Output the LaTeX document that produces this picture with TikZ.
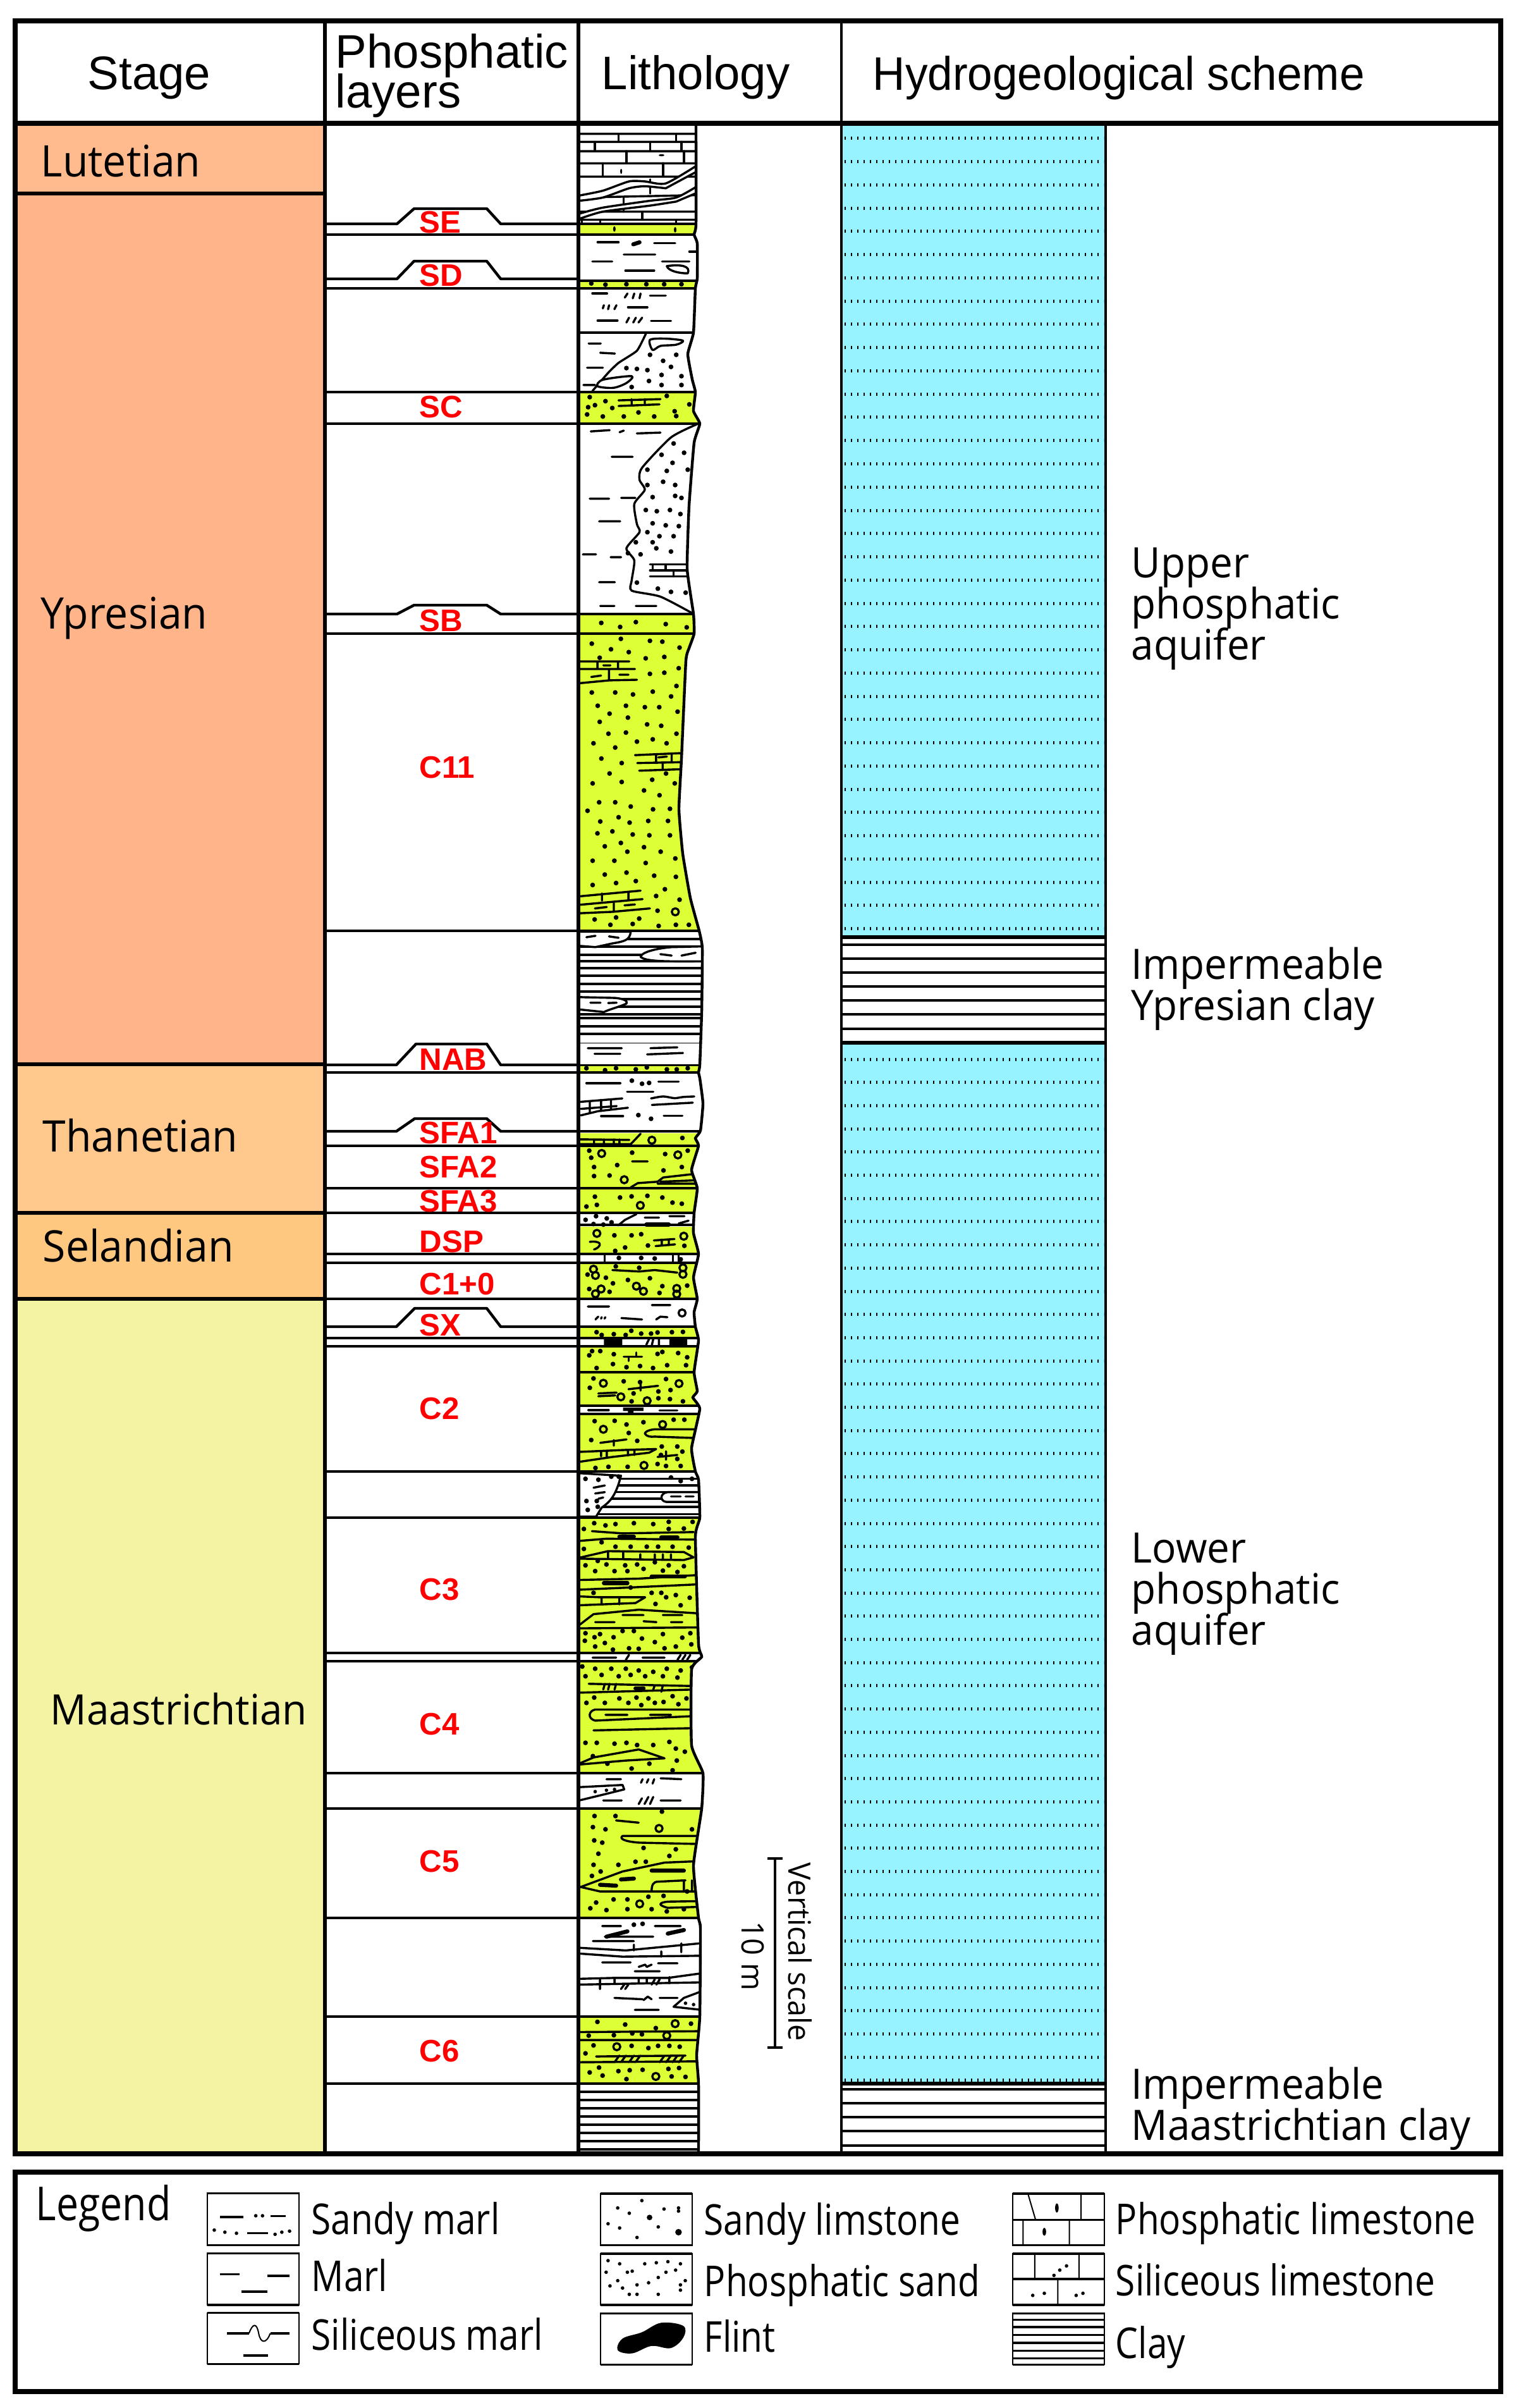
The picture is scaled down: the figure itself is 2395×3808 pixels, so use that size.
\documentclass[tikz,border=0pt]{standalone}
\usepackage{fontspec}
\setmainfont{Liberation Sans}
\newfontfamily\myr[FakeStretch=0.96]{Open Sans}
\newfontfamily\myrleg[FakeStretch=0.845]{Open Sans}
\newfontfamily\hyd[FakeStretch=0.955]{Liberation Sans}
\definecolor{lut}{HTML}{FFBB8E}
\definecolor{ypr}{HTML}{FFB48A}
\definecolor{tha}{HTML}{FFC88C}
\definecolor{sel}{HTML}{FFC880}
\definecolor{maa}{HTML}{F4F3A2}
\definecolor{phy}{HTML}{DDFF36}
\definecolor{aq}{HTML}{96F3FF}
\definecolor{rd}{HTML}{FF0000}
\tikzset{
  frame/.style={line width=2pt,draw=black},
  colline/.style={line width=1.5pt,draw=black},
  stline/.style={line width=1.7pt,draw=black},
  phline/.style={line width=1.1pt,draw=black,line join=round},
  ln/.style={line width=0.85pt,draw=black,line cap=round,line join=round},
  ln2/.style={line width=1.1pt,draw=black},
  flint/.style={line width=1.6pt,draw=black,line cap=round},
  lens/.style={ln,fill=white},
  hdr/.style={anchor=base west,inner sep=0pt,font=\fontsize{18.6}{20}\selectfont},
  stg/.style={anchor=base west,inner sep=0pt,font=\myr\fontsize{17.2}{18}\selectfont},
  hy/.style={anchor=base west,inner sep=0pt,font=\myr\fontsize{16.6}{18}\selectfont},
  rl/.style={anchor=base west,inner sep=0pt,text=rd,font=\bfseries\fontsize{12.3}{14}\selectfont},
  lg/.style={anchor=base west,inner sep=0pt,font=\myrleg\fontsize{16.8}{18}\selectfont},
  scl/.style={anchor=base west,inner sep=0pt,rotate=-90,font=\myr\fontsize{12.2}{15}\selectfont},
  lgbox/.style={line width=0.5pt,draw=black},
  lgh/.style={line width=0.8pt,draw=black},
  zA/.style={x=0.2073pt,y=-0.1594pt},
  zB/.style={x=0.1116pt,y=-0.1116pt,xshift=125pt,yshift=-250pt},
  zC/.style={x=0.1116pt,y=-0.1116pt,xshift=125pt,yshift=-412.5pt},
  zD/.style={x=0.1276pt,y=-0.1754pt,xshift=125pt,yshift=-575pt},
  zE/.style={x=0.3817pt,y=-0.0833pt,yshift=-845pt},
  aqdots/.style={line width=1.25pt,black,dash pattern=on 0.5pt off 2pt},
}
\newcommand\dotsat[1]{\foreach \xx/\yy in {#1}{\fill (\xx,\yy) circle (0.95pt);}}
\newcommand\ringsat[1]{\foreach \xx/\yy in {#1}{\draw[ln] (\xx,\yy) circle (1.4pt);}}
\newcommand\legdots[1]{\foreach \xx/\yy in {#1}{\fill (\xx,\yy) circle (0.7pt);}}
\newcommand\profpath{(915,199) -- plot[smooth,tension=0.25] coordinates {(1101,199) (1101,354) (1098,371) (1103,385) (1103,440) (1100,456) (1097,526) (1088,560) (1095,600) (1100,620) (1097,650) (1107,670) (1098,700) (1090,800) (1087,900) (1097,971) (1098,1002) (1090,1025) (1085,1045) (1078,1200) (1074,1280) (1080,1350) (1092,1420) (1106,1472) (1111,1500) (1110,1600) (1107,1684) (1105,1696) (1107,1705) (1112,1745) (1108,1788) (1100,1800) (1105,1812) (1094,1850) (1103,1879) (1098,1918) (1097,1950) (1105,1983) (1097,2020) (1103,2054) (1098,2075) (1100,2098) (1105,2120) (1098,2170) (1103,2200) (1096,2210) (1107,2228) (1094,2290) (1100,2327) (1105,2340) (1107,2400) (1100,2430) (1105,2600) (1110,2620) (1094,2640) (1094,2760) (1112,2804) (1110,2860) (1097,2950) (1105,3033) (1108,3050) (1107,3189) (1102,3250) (1105,3295) (1105,3402)} -- (915,3402) -- cycle}
\begin{document}
\begin{tikzpicture}[x=0.25pt,y=-0.25pt]
\useasboundingbox (0,0) rectangle (2395,3808);
\fill[white] (0,0) rectangle (2395,3808);
% stage fills
\fill[lut] (24,199) rectangle (514,306);
\fill[ypr] (24,306) rectangle (514,1683);
\fill[tha] (24,1683) rectangle (514,1918);
\fill[sel] (24,1918) rectangle (514,2054);
\fill[maa] (24,2054) rectangle (514,3406);
% hydro
\fill[aq] (1331,199) rectangle (1749,1482);
\fill[aq] (1331,1649) rectangle (1749,3295);
\foreach \k in {0,...,34}{\draw[aqdots] (1336,{219+36.75*\k}) -- (1746,{219+36.75*\k});}
\foreach \k in {0,...,44}{\draw[aqdots] (1336,{1675+36.7*\k}) -- (1746,{1675+36.7*\k});}
\foreach \y in {1494,1516,1538,1560,1582,1604,1627,3304,3326,3348,3370,3393}{\draw[ln2] (1331,\y) -- (1749,\y);}
\draw[stline] (1331,1482) -- (1749,1482);
\draw[stline] (1331,1649) -- (1749,1649);
\draw[stline] (1331,3295) -- (1749,3295);
\draw[line width=1pt] (1749,199) -- (1749,3406);
% phosphatic lines
\foreach \y in {371,456,620,670,1002,1472,1696,1812,1879,1918,1983,1997,2054,2116,2129,2327,2400,2614,2627,2804,2860,3033,3189,3295}{\draw[phline] (514,\y) -- (915,\y);}
\draw[phline] (514,354) -- (628,354) -- (655,330) -- (770,330) -- (792,354) -- (915,354);
\draw[phline] (514,441) -- (628,441) -- (655,413) -- (770,413) -- (792,441) -- (915,441);
\draw[phline] (514,971) -- (628,971) -- (655,957) -- (770,957) -- (792,971) -- (915,971);
\draw[phline] (514,1684) -- (627,1684) -- (658,1651) -- (770,1651) -- (792,1684) -- (915,1684);
\draw[phline] (514,1789) -- (627,1789) -- (656,1769) -- (770,1769) -- (792,1789) -- (915,1789);
\draw[phline] (514,2098) -- (627,2098) -- (656,2069) -- (770,2069) -- (792,2098) -- (915,2098);
% lithology
\begin{scope}
\path[clip] \profpath;
\fill[white] (915,199) rectangle (1200,3402);
\foreach \a/\b in {354/371,444/456,620/670,971/1472,1684/1696,1792/1812,1812/1879,1879/1918,1940/1983,1997/2054,2098/2116,2130/2170,2172/2223,2238/2327,2400/2614,2627/2804,2860/3033,3189/3295}{\fill[phy] (915,\a) rectangle (1200,\b);}
\foreach \y in {354,371,444,456,526,620,670,971,1002,1472,1651,1684,1696,1789,1812,1879,1918,1937,1983,1997,2054,2098,2116,2129,2170,2223,2236,2327,2400,2614,2627,2804,2860,3033,3189,3295}{\draw[ln2] (915,\y) -- (1200,\y);}
% clay bands
\foreach \y in {1485,1497,1510,1520,1531,1543,1556,1568,1580,1592,1604,1610,1623,1635}{\draw[ln] (915,\y) -- (1200,\y);}
\foreach \k in {1,...,8}{\draw[ln] (915,{3295+13*\k}) -- (1200,{3295+13*\k});}
% section from top
\begin{scope}[zA]
\draw[ln] (1105,332)--(1330,332) (1105,352)--(1330,352) (1105,375)--(1330,375) (1105,405)--(1330,405) (1105,438)--(1330,438) (1105,490)--(1330,484) (1105,525)--(1330,525) (1105,545)--(1330,545);
\draw[ln] (1180,332)--(1180,352) (1290,332)--(1290,352) (1135,352)--(1135,375) (1240,352)--(1240,375) (1300,352)--(1300,375) (1195,375)--(1195,405) (1305,375)--(1305,405) (1150,405)--(1150,438) (1265,405)--(1265,438) (1240,445)--(1240,480) (1145,545)--(1145,556) (1225,525)--(1225,545) (1290,545)--(1290,556) (1190,490)--(1190,525) (1110,545)--(1110,556);
\fill (1262,385) ellipse (1.1pt and 0.4pt) (1185,425) ellipse (0.4pt and 1pt);
\filldraw[lens] plot[smooth,tension=0.4] coordinates {(1105,485) (1150,473) (1200,450) (1230,450) (1270,455) (1330,410)} -- (1330,425) -- plot[smooth,tension=0.4] coordinates {(1270,467) (1230,462) (1200,467) (1150,490) (1105,498)} -- cycle;
\filldraw[lens] plot[smooth,tension=0.4] coordinates {(1105,530) (1150,515) (1240,498) (1290,490) (1330,462)} -- (1330,478) -- plot[smooth,tension=0.4] coordinates {(1290,500) (1240,510) (1150,525) (1105,543)} -- cycle;
\fill (1172,568) ellipse (0.5pt and 1.1pt) (1288,570) ellipse (0.5pt and 1.1pt);
\draw[ln] (1140,601)--(1180,601) (1248,603)--(1288,603) (1190,631)--(1250,631) (1315,624)--(1328,624) (1130,649)--(1168,649) (1263,649)--(1315,649) (1193,671)--(1248,671);
\draw[flint] (1208,606)--(1220,601);
\draw[ln] (1272,660) .. controls (1300,655) and (1318,660) .. (1312,678) .. controls (1295,678) and (1275,672) .. (1272,660);
\dotsat{1128/703,1155/706,1195/705,1233/705,1267/705,1300/705}
\draw[ln] (1130,728)--(1158,728) (1240,733)--(1270,733) (1198,762)--(1235,762) (1140,795)--(1178,795) (1242,796)--(1280,796);
\draw[ln] (1192,738)--(1197,728) (1207,740)--(1210,728) (1220,740)--(1222,728) (1150,765)--(1152,757) (1160,767)--(1162,757) (1172,767)--(1176,757) (1195,800)--(1200,788) (1208,800)--(1213,788) (1218,800)--(1225,788);
% marl and sand
\draw[ln] (1123,852)--(1146,852) (1145,875)--(1173,877) (1120,912)--(1150,912) (1113,955)--(1135,955);
\draw[ln] plot[smooth,tension=0.3] coordinates {(1232,828) (1215,870) (1180,900) (1160,925) (1130,970)};
\dotsat{1195/913,1215/915,1235/918,1265/895,1290/880,1240/880,1280/910,1262/930,1300/933,1238/945,1262/955,1300/955,1205/960}
\filldraw[lens] plot[smooth cycle,tension=0.5] coordinates {(1240,843) (1270,840) (1303,845) (1290,855) (1260,858) (1245,868)};
\filldraw[lens] plot[smooth cycle,tension=0.5] coordinates {(1150,942) (1205,933) (1195,950) (1170,962) (1140,958)};
\dotsat{1125/985,1155/995,1135/1005,1168/1012,1120/1028,1150/1033,1190/1033,1218/1023,1248/1033,1287/1020,1315/1003,1290/1032,1272/982,1122/1010}
\draw[ln] (1180,993)--(1260,990) (1180,1007)--(1258,1003) (1205,990)--(1205,1005) (1230,990)--(1230,1005);
\draw[ln] (1127,1070)--(1163,1067) (1215,1075)--(1260,1073) (1167,1133)--(1207,1133) (1125,1237)--(1162,1237) (1185,1235)--(1212,1235) (1143,1293)--(1183,1293) (1112,1375)--(1137,1375) (1165,1382)--(1185,1382) (1143,1444)--(1173,1444) (1145,1503)--(1172,1503) (1213,1503)--(1252,1503) (1182,1072)--(1190,1068);
\draw[ln] plot[smooth,tension=0.4] coordinates {(1330,1052) (1280,1085) (1225,1160) (1220,1190) (1230,1215) (1210,1250) (1215,1300) (1220,1320) (1195,1360) (1210,1390) (1205,1440) (1205,1465) (1260,1480) (1322,1522)};
\dotsat{1285/1100,1305/1123,1262/1128,1283/1148,1235/1165,1272/1168,1312/1165,1288/1203,1235/1203,1265/1195,1288/1230,1245/1233,1300/1235,1232/1265,1253/1268,1278/1265,1298/1275,1245/1298,1270/1303,1295/1305,1235/1320,1258/1330,1285/1330,1213/1345,1245/1345,1198/1372,1222/1375,1252/1360,1280/1368,1215/1445,1255/1460,1280/1468,1308/1470}
\draw[ln] (1240,1400)--(1310,1400) (1240,1415)--(1312,1415) (1240,1430)--(1310,1430) (1270,1400)--(1270,1415) (1285,1415)--(1285,1430) (1245,1400)--(1245,1415);
\dotsat{1147/1545,1183/1555,1213/1543,1270/1548,1310/1556}
\end{scope}
% C11 and clay
\begin{scope}[zB]
\dotsat{977/40,1080/23,1183/30,1227/33,1288/54,1045/60,1108/70,1005/90,1168/92,1234/87,1285/127,1183/147,1234/143,1277/190,977/213,1060/213,1123/220,1193/210,1258/227,998/260,1098/260,1165/265,1216/265,1281/281,1040/288,1105/302,1005/317,1173/326,1223/331,1036/359,1098/355,1277/359,983/393,1137/387,1193/379,1242/393,1060/408,1011/447,1083/463,1240/500,1040/500,980/535,1083/530,1191/522,1271/535,1162/560,1217/577,1003/602,1060/602,1115/617,1194/627,1254/625,962/632,1007/670,1072/655,1111/674,1177/668,1247/668,997/712,1050/705,1122/716,1181/719,1254/719,1023/758,1080/746,1103/777,1162/761,1221/777,980/809,1057/809,1273/801,1168/817,1023/858,1100/851,1198/862,1275/866,980/895,1063/888,1133/881,1236/910,1205/934,1288/947,1210/986,987/1017,1063/1010,1145/1014,1043/1036,1122/1033,1214/1040,1275/1036,1321/1036}
\draw[ln] (935,103)--(1110,103) (935,130)--(1130,130) (935,180)--(1040,170)--(1137,168) (997,103)--(997,130) (1070,103)--(1070,130) (1038,130)--(1038,168) (1018,117)--(1043,117) (975,158)--(1010,153) (1075,150)--(1107,150);
\draw[ln] (1130,435)--(1290,428) (1138,463)--(1290,460) (1145,490)--(1290,485) (1205,433)--(1205,463) (1260,430)--(1260,460) (1228,463)--(1228,488) (1213,443)--(1243,440);
\draw[ln] (935,935)--(1150,915) (935,965)--(1157,945) (935,995)--(1050,990)--(1183,978) (1013,925)--(1013,950) (1107,920)--(1107,945) (1055,960)--(1055,990) (988,978)--(1030,973) (1093,967)--(1130,964);
\ringsat{1273/990}
\filldraw[lens] (925,1060)--(1115,1060) .. controls (1112,1092) and (1090,1095) .. (1050,1102) -- (990,1115) -- (925,1110) -- cycle;
\draw[ln] (958,1080)--(990,1075) (1038,1077)--(1072,1082);
\filldraw[lens] (1390,1112)--(1260,1115) .. controls (1200,1120) and (1150,1135) .. (1150,1150) .. controls (1170,1165) and (1220,1167) .. (1390,1165) -- cycle;
\draw[ln] (1220,1140)--(1260,1145) (1295,1145)--(1345,1135);
\filldraw[lens] (925,1292) -- (1060,1295) .. controls (1090,1298) and (1105,1305) .. (1100,1315) .. controls (1080,1325) and (1040,1335) .. (1020,1345) -- (925,1335) -- cycle;
\draw[ln] (972,1312)--(1008,1312) (1035,1313)--(1065,1312);
\fill[white] (925,1457) rectangle (1390,1530);
\draw[ln] (963,1473)--(1083,1473) (987,1493)--(1078,1493) (1185,1473)--(1280,1470) (1173,1495)--(1300,1490);
\end{scope}
% Thanetian to C2
\begin{scope}[zC]
\dotsat{958/88,1024/95,1063/88,1133/92,1172/85,1243/92,1278/92,1317/88}
\draw[ln] (958,141)--(1078,141) (1213,135)--(1285,135) (1102,171)--(1195,171) (1010,258)--(1088,258) (1232,256)--(1298,256);
\dotsat{1119/132,1155/143,1180/140,1142/254,1187/267}
\draw[ln] plot[smooth,tension=0.5] coordinates {(1187,195) (1230,188) (1270,194) (1300,190) (1340,188)};
\draw[ln] (1190,218)--(1335,210);
\draw[ln] (938,207)--(1085,195) (938,232)--(1065,222) (938,255)--(1000,240)--(1105,228) (970,205)--(970,245) (1010,200)--(1010,240) (1045,198)--(1045,235);
% yellow
\draw[ln] (935,340)--(1110,342) (935,357)--(1115,357) (985,340)--(985,357) (1020,340)--(1020,357) (1055,340)--(1055,357) (1075,340)--(1075,357) (1115,357)--(1150,320);
\ringsat{1190/343}
\dotsat{1298/335}
\dotsat{968/380,975/405,985/438,985/470,1040/468,1067/431,1120/387,1237/392,1317/380,1231/450,1296/438}
\ringsat{1012/390,1282/395,1092/483}
\draw[ln] (1120,418)--(1175,418) (1115,510)--(1140,495)--(1210,490)--(1230,475)--(1345,462) (1220,490)--(1345,485) (1210,497)--(1345,497);
\dotsat{988/543,1077/546,1118/542,1174/540,1227/546,1263/564,1296/568,958/578,995/572}
\ringsat{1149/574}
\dotsat{955/625,992/612,1030/620,1047/634,983/640,1018/642}
\draw[ln] (1070,645)--(1095,625)--(1135,605) (1165,617)--(1215,617) (1252,612)--(1305,612) (1285,638)--(1320,628);
\draw[flint] (1170,642)--(1250,642);
\ringsat{995/673,1303/683}
\draw[ln] (970,703) .. controls (990,700) and (1010,705) .. (1005,715) .. controls (1000,725) and (990,728) .. (985,730);
\dotsat{1057/680,1118/680,1152/676,1305/717,1176/716,1095/723,1060/735}
\draw[ln] (1197,698)--(1270,693) (1203,718)--(1272,712) (1225,695)--(1225,715) (1250,695)--(1250,715);
\draw[ln] (1022,750)--(1022,777) (1265,750)--(1265,777) (1285,750)--(1285,777);
\dotsat{1073/760,1152/760,1200/762,1292/765}
\ringsat{983/800,990/822,1300/795,1300/818,1135/860,1160/878,1010/870,990/887,1278/868,1278/888}
\draw[ln] (1050,803)--(1145,808)--(1200,803)--(1280,812);
\dotsat{1062/790,1145/795,962/819,1027/830,1105/838,1183/832,1052/850,968/870,1040/880,1227/860,1217/884,1315/858}
\draw[ln] (963,932)--(1038,932) (1190,927)--(1255,927) (1082,973)--(1155,978) (1205,978)--(1220,968)--(1245,970);
\draw[ln] (990,978)--(1000,968) (1010,975)--(1012,970) (1022,975)--(1025,970);
\ringsat{1297/955}
\dotsat{994/1023,1012/1033,1055/1030,1097/1033,1117/1018,1152/1028,1187/1028,1210/1024,1261/1023,1300/1022}
\fill (1020,1047) rectangle (1085,1068) (1252,1047) rectangle (1315,1068);
\draw[ln] (1170,1068)--(1180,1047) (1190,1068)--(1195,1047) (1215,1047)--(1215,1068);
\dotsat{978/1090,968/1105,1007/1090,1055/1101,1210/1100,1227/1093,1283/1097,1315/1112,994/1150,1052/1136,1100/1147,1148/1143,1194/1150,1244/1140,1311/1140}
\draw[ln] (1090,1110)--(1155,1110) (1108,1110)--(1108,1125) (1135,1095)--(1135,1110);
\dotsat{983/1187,970/1220,1090/1197,1148/1200,1240/1189,1256/1228,1125/1240,1213/1257,1254/1260,1118/1268,1300/1268,1213/1233}
\ringsat{1018/1204,1286/1205,1080/1252,1173/1266}
\draw[ln] (1107,1225)--(1212,1213) (1150,1205)--(1150,1230) (1000,1240)--(1065,1237) (1000,1250)--(1060,1247);
\draw[ln] (965,1299)--(1037,1299) (1217,1300)--(1280,1300);
\fill (1088,1290) rectangle (1160,1302) (1105,1300) rectangle (1125,1310);
\dotsat{987/1338,1058/1337,1100/1350,1160/1342,1267/1333,1305/1333,1108/1380,975/1405,1138/1408,1225/1428,1280/1428,1298/1446,1222/1458,1280/1472,990/1504,1036/1500,1104/1500,1210/1490,1240/1497,1292/1497}
\ringsat{1018/1367,1228/1350,1162/1495}
\draw[ln] (1345,1367)--(1200,1367) .. controls (1170,1370) and (1165,1380) .. (1165,1382) .. controls (1170,1392) and (1185,1395) .. (1200,1393) -- (1345,1398);
\draw[ln] (1007,1415)--(1100,1403) (1055,1405)--(1055,1425);
\draw[ln] (935,1447)--(1100,1440)--(1205,1437)--(1180,1450)--(1050,1465)--(935,1482) (1010,1445)--(1010,1463) (1030,1445)--(1030,1463) (1105,1440)--(1105,1460) (1128,1440)--(1128,1458) (1210,1465)--(1280,1458) (1240,1445)--(1240,1475);
\end{scope}
% C3 to C6
\begin{scope}[zD]
\foreach \y in {55,70,85,100,118,135}{\draw[ln] (860,\y) -- (1195,\y);}
\filldraw[lens] (810,42) -- (945,48) .. controls (930,90) and (915,105) .. (885,120) -- (868,140) -- (810,140) -- cycle;
\dotsat{835/55,875/57,915/50,938/50,1100/52,1130/60,1165/55,838/105,870/105,842/125,873/118}
\draw[ln] (860,75)--(895,70) (865,88)--(895,85) (875,100)--(890,97);
\filldraw[lens] (1195,85)--(1090,85) .. controls (1065,87) and (1065,105) .. (1085,107) -- (1195,107) -- cycle;
\draw[ln] (1100,95)--(1130,95) (1145,95)--(1170,95);
\dotsat{830/168,862/155,897/160,928/157,985/155,1045/157,1093/152,1093/168,1140/167,1167/152}
\draw[ln] (855,173)--(950,178)--(1170,175) (815,195)--(900,190)--(1180,192);
\draw[flint] (940,185)--(985,185) (1070,187)--(1120,187);
\dotsat{830/213,885/198,928/208,975/208,1025/208,1060/208,1105/208,1155/210}
\draw[ln] (815,233)--(905,218)--(1140,220)--(1170,232)--(1140,238)--(815,235) (905,220)--(905,235) (952,220)--(952,235) (1005,225)--(1005,235) (1050,225)--(1050,235) (1075,225)--(1075,235) (1100,225)--(1100,235);
\dotsat{835/250,873/240,900/248,958/250,995/248,1050/243,1093/250,1140/252,865/263,925/263,965/263,1015/258,1075/262,1120/265}
\draw[ln] (815,283)--(1000,280)--(1180,272) (815,305)--(970,300)--(1180,293);
\draw[flint] (1040,275)--(1143,275) (892,290)--(965,290);
\dotsat{860/312,975/300,1040/312,1070/312,1085/322,1115/317,1158/323,1052/337,1130/340}
\draw[ln] (815,320)--(880,322)--(1020,322)--(990,335)--(815,340) (885,322)--(885,338) (940,322)--(940,338);
\draw[ln] (815,385)--(860,360)--(1000,350)--(1180,358) (865,378)--(925,378) (950,362)--(1015,362) (1015,376)--(1055,378) (1075,362)--(1135,362) (1100,378)--(1135,378) (815,392)--(1185,390);
\dotsat{835/403,880/405,950/398,985/398,1075/405,1160/403,922/412,1010/415,1135/413,1050/423,833/420,865/433,895/425,1115/433,1163/428,1000/438,920/440,970/437,1080/437,863/412}
\draw[ln] (857,458)--(930,458) (1012,458)--(1080,458) (960,463)--(970,452) (1120,463)--(1130,452) (1135,463)--(1145,452) (1150,463)--(1160,452);
\dotsat{825/478,865/483,915/483,960/483,1000/487,1045/490,1087/483,1130/487,1165/480,835/500,885/497,938/500,975/497,1020/500,1075/500,1120/503}
\draw[ln] (845,517)--(1165,522) (815,537)--(1165,530) (890,530)--(895,517) (905,530)--(910,517) (925,530)--(930,517) (1045,530)--(1050,520) (1070,535)--(1075,520);
\draw[flint] (990,527)--(1015,527);
\dotsat{838/560,862/548,895/560,940/550,968/560,993/548,1008/565,1030/550,1050/560,1077/558,1105/545,1123/563,1148/550}
\draw[ln] (1165,575)--(865,575) .. controls (845,578) and (840,595) .. (865,600) -- (1165,590) (897,587)--(965,587) (1035,587)--(1100,587) (860,622)--(1165,617);
\dotsat{835/650,870/650,925/652,962/650,995/655,1045/655,1095/648,1115/663,1143/670,1118/690,1105/712,978/708,903/697,1033/697,858/680}
\draw[ln] (815,697)--(860,683)--(1000,665)--(1080,685)--(960,690)--(815,699);
\draw[ln] (900,732)--(945,732) (1068,730)--(1132,732) (890,780)--(947,780) (1068,780)--(1130,780) (1007,740)--(1012,732) (1025,740)--(1030,732) (1043,742)--(1048,732) (1000,788)--(1010,775) (1018,788)--(1030,772) (1035,788)--(1045,772) (815,750)--(950,745)--(955,755)--(900,765)--(815,780);
\legdots{865/760,900/757,925/755}
\dotsat{863/815,1072/805,928/815,858/840,897/845,862/870,887/875,875/900,1165/845,1115/890,1095/905,1015/887,860/925,882/940,937/925,990/918,1022/918,855/950,868/1010,850/1023,900/1027,922/1003,965/1003,965/1025,1030/997,1040/1025,1077/995,1087/1030,1140/1025,1150/985}
\draw[ln] (930,825)--(1000,830);
\ringsat{1063/843,1003/1013}
\draw[ln] (1180,860)--(950,860) .. controls (940,865) and (950,872) .. (1000,875) -- (1180,878) (820,975)--(950,940)--(1080,920)--(1180,917) (820,975)--(880,985)--(1030,985)--(1180,985) (1040,985) .. controls (1040,970) and (1045,963) .. (1060,963) -- (1145,960) (1140,960)--(1140,985) (1165,960)--(1165,985) (1180,1007)--(1090,1008) .. controls (1065,1010) and (1055,1015) .. (1090,1022) -- (1180,1020);
\draw[flint] (1040,938)--(1140,938) (880,970)--(930,972) (945,958)--(985,956);
\draw[ln] (887,1063)--(945,1063) (1050,1063)--(1130,1063) (895,1087)--(1045,1087) (858,1097)--(985,1097) (887,1145)--(975,1145) (1060,1147)--(1120,1147) (988,1165)--(1065,1165) (925,1225)--(1012,1228) (1065,1225)--(1120,1225) (988,1252)--(1062,1252);
\draw[flint] (900,1087)--(965,1075) (1090,1080)--(1140,1072);
\dotsat{985/1060,1012/1058}
\draw[ln] (815,1112)--(960,1118)--(1190,1102) (815,1125)--(950,1132)--(1190,1130) (985,1105)--(985,1118) (1070,1120)--(1070,1132) (1132,1102)--(1132,1122) (1000,1155)--(1020,1150)--(1025,1155)--(1040,1150);
\draw[ln] (815,1182)--(920,1180)--(1090,1180)--(1190,1170) (815,1195)--(1190,1190) (880,1183)--(880,1205) (925,1180)--(925,1192) (1000,1180)--(1000,1192) (1025,1180)--(1025,1192) (1095,1178)--(1095,1192) (945,1205)--(955,1195) (958,1205)--(968,1195) (1040,1195)--(1050,1183) (1055,1195)--(1065,1183);
\draw[ln] (1015,1230)--(1028,1222)--(1040,1228);
\draw[lens] (1195,1210)--(1140,1225)--(1108,1245)--(1195,1252);
\legdots{1145/1237,1170/1240}
\dotsat{872/1279,958/1285,1053/1293,1162/1283,845/1310,923/1309,980/1305,1010/1307,860/1332,978/1333,1030/1338,1060/1333,1095/1333,1127/1335,835/1350,848/1393,877/1382,888/1400,937/1390,972/1388,1012/1387,962/1408,1092/1385,1102/1402,1125/1383,1145/1403}
\ringsat{1113/1283,1087/1310,932/1335,1053/1402}
\draw[ln] (815,1302)--(1195,1300) (815,1320)--(1195,1320) (868,1357)--(1145,1355) (815,1370)--(1180,1368) (925,1370)--(940,1355) (945,1370)--(960,1355) (970,1370)--(985,1355) (990,1370)--(1005,1355) (1065,1370)--(1080,1355) (1085,1370)--(1100,1355) (1105,1370)--(1120,1355) (1125,1370)--(1140,1355);
\end{scope}
\end{scope}
\draw[ln2] plot[smooth,tension=0.25] coordinates {(1101,199) (1101,354) (1098,371) (1103,385) (1103,440) (1100,456) (1097,526) (1088,560) (1095,600) (1100,620) (1097,650) (1107,670) (1098,700) (1090,800) (1087,900) (1097,971) (1098,1002) (1090,1025) (1085,1045) (1078,1200) (1074,1280) (1080,1350) (1092,1420) (1106,1472) (1111,1500) (1110,1600) (1107,1684) (1105,1696) (1107,1705) (1112,1745) (1108,1788) (1100,1800) (1105,1812) (1094,1850) (1103,1879) (1098,1918) (1097,1950) (1105,1983) (1097,2020) (1103,2054) (1098,2075) (1100,2098) (1105,2120) (1098,2170) (1103,2200) (1096,2210) (1107,2228) (1094,2290) (1100,2327) (1105,2340) (1107,2400) (1100,2430) (1105,2600) (1110,2620) (1094,2640) (1094,2760) (1112,2804) (1110,2860) (1097,2950) (1105,3033) (1108,3050) (1107,3189) (1102,3250) (1105,3295) (1105,3402)};
% frame and columns
\draw[colline] (514,33) -- (514,3406);
\draw[colline] (915,33) -- (915,3406);
\draw[line width=1.2pt] (1331,33) -- (1331,3406);
\draw[frame] (24,195) -- (2374,195);
\draw[stline] (24,306) -- (514,306);
\draw[stline] (24,1683) -- (514,1683);
\draw[stline] (24,1918) -- (514,1918);
\draw[stline] (24,2054) -- (514,2054);
\draw[frame] (24,33) rectangle (2374,3406);
\draw[frame] (24,3435) rectangle (2374,3782);
% scale bar
\draw[line width=1pt] (1214,2939) -- (1238,2939) (1226,2939) -- (1226,3238) (1214,3238) -- (1238,3238);
\node[scl] (vsA) at (1247,2945) {Vertical scale};
\node[scl] (vsB) at (1173,3038) {10 m};
% headers
\node[hdr] (hStage) at (138,142) {Stage};
\node[hdr] (hPhos) at (530,108) {Phosphatic};
\node[hdr] (hLay) at (530,171) {layers};
\node[hdr] (hLith) at (951,142) {Lithology};
\node[hdr,font=\hyd\fontsize{18.6}{20}\selectfont] (hHyd) at (1380,143) {Hydrogeological scheme};
% stages
\node[stg] (sLut) at (64,280) {Lutetian};
\node[stg] (sYpr) at (64,994) {Ypresian};
\node[stg] (sTha) at (67,1821) {Thanetian};
\node[stg] (sSel) at (67,1995) {Selandian};
\node[stg,font=\myr\fontsize{16.6}{18}\selectfont] (sMaa) at (79,2727) {Maastrichtian};
% red labels
\node[rl] (lSE) at (663,369) {SE};
\node[rl] (lSD) at (663,453) {SD};
\node[rl] (lSC) at (663,661) {SC};
\node[rl] (lSB) at (663,998) {SB};
\node[rl] (lC11) at (663,1230) {C11};
\node[rl] (lNAB) at (663,1692) {NAB};
\node[rl] (lSFA1) at (663,1808) {SFA1};
\node[rl] (lSFA2) at (663,1862) {SFA2};
\node[rl] (lSFA3) at (663,1916) {SFA3};
\node[rl] (lDSP) at (663,1980) {DSP};
\node[rl] (lC10) at (663,2047) {C1+0};
\node[rl] (lSX) at (663,2112) {SX};
\node[rl] (lC2) at (663,2244) {C2};
\node[rl] (lC3) at (663,2530) {C3};
\node[rl] (lC4) at (663,2743) {C4};
\node[rl] (lC5) at (663,2960) {C5};
\node[rl] (lC6) at (663,3260) {C6};
% hydro labels
\node[hy] (a1) at (1789,913) {Upper};
\node[hy] (a2) at (1789,978) {phosphatic};
\node[hy] (a3) at (1789,1043) {aquifer};
\node[hy] (b1) at (1789,1548) {Impermeable};
\node[hy] (b2) at (1789,1613) {Ypresian clay};
\node[hy] (c1) at (1789,2471) {Lower};
\node[hy] (c2) at (1789,2536) {phosphatic};
\node[hy] (c3) at (1789,2601) {aquifer};
\node[hy] (d1) at (1789,3319) {Impermeable};
\node[hy] (d2) at (1789,3384) {Maastrichtian clay};
% legend
\node[lg,font=\myrleg\fontsize{18.5}{20}\selectfont] (lgT) at (56,3511) {Legend};
\node[lg] (lg1) at (492,3533) {Sandy marl};
\node[lg] (lg2) at (492,3623) {Marl};
\node[lg] (lg3) at (492,3716) {Siliceous marl};
\node[lg] (lg4) at (1113,3534) {Sandy limstone};
\node[lg] (lg5) at (1113,3631) {Phosphatic sand};
\node[lg] (lg6) at (1113,3719) {Flint};
\node[lg] (lg7) at (1764,3533) {Phosphatic limestone};
\node[lg] (lg8) at (1764,3630) {Siliceous limestone};
\node[lg] (lg9) at (1764,3729) {Clay};
\begin{scope}[zE]
\foreach \xa/\xb/\ya/\yb in {215/310/265/512,215/310/550/795,215/310/833/1075,622/717/267/512,622/717/552/795,622/717/835/1078,1049/1144/267/512,1049/1144/552/795,1049/1144/835/1078}{
  \draw[lgbox] (\xa,\ya) rectangle (\xb,\yb);
  \draw[lgh] (\xa,\ya) -- (\xb,\ya) (\xa,\yb) -- (\xb,\yb);
}
\draw[lgh] (228,378)--(252,378) (280,373)--(296,373) (256,455)--(278,455) (228,650)--(248,650) (277,657)--(300,657) (250,732)--(277,732) (235,930)--(258,930) (280,930)--(300,930) (252,1035)--(278,1035);
\legdots{265/372,272/372,222/440,233/450,245/455,285/460,292/450,300/445}
\draw[line width=0.5pt] (258,930) .. controls (262,880) and (266,880) .. (268,930) .. controls (270,980) and (276,980) .. (280,930);
\legdots{640/335,665/300,652/360,688/340,703/335,703/350,630/410,642/430,682/425,660/475}
\fill (673,380) circle (1.1pt) (703,450) circle (1.3pt);
\legdots{630/585,642/600,628/640,655/635,668/600,680/595,692/590,705/600,640/680,632/705,645/715,660/700,682/665,700/630,710/680,672/690,705/700,660/745,682/745,652/745,705/725,690/640,650/640}
\fill plot[smooth cycle,tension=0.6] coordinates {(685,880) (708,895) (708,950) (695,1000) (675,990) (655,1025) (640,1010) (645,955) (665,925)};
\draw[lgh] (1049,392)--(1144,392) (1049,672)--(1144,672);
\draw[lgbox] (1065,267)--(1073,392) (1120,267)--(1120,392) (1060,392)--(1060,512) (1108,392)--(1108,512) (1072,552)--(1072,672) (1118,552)--(1118,672) (1096,672)--(1096,795);
\fill (1095,335) ellipse (0.7pt and 1.8pt) (1082,448) ellipse (0.7pt and 1.6pt);
\legdots{1105/610,1098/630,1092/655,1070/750,1082/740,1115/750,1122/740}
\foreach \y in {865,900,937,975,1013,1050}{\draw[lgh] (1049,\y)--(1144,\y);}
\end{scope}
\end{tikzpicture}
\end{document}
